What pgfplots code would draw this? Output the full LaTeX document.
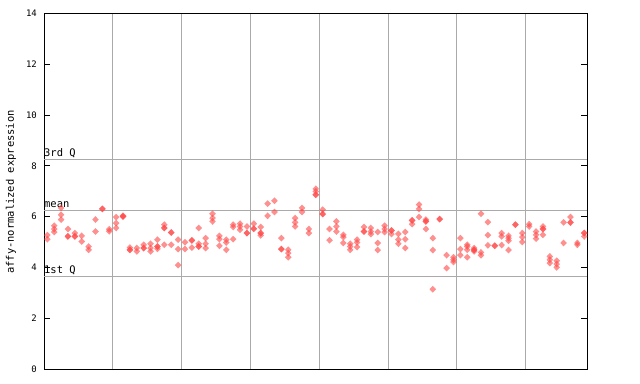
\documentclass[border=0pt]{standalone}
\usepackage{pgfplots}
\pgfplotsset{compat=1.18}
\usepackage{pgfplotstable}
\usepackage{fontspec}
\setmonofont{DejaVu Sans Mono}
\definecolor{rptred}{RGB}{255,70,70}
\definecolor{gridgray}{RGB}{170,170,170}

\pgfplotstableread{
x y
0 5.27
0 5.11
1 5.64
1 5.51
1 5.39
2 6.34
2 6.07
2 5.88
3 5.51
3 5.22
3 5.22
4 5.35
4 5.22
4 5.22
5 5.24
5 5.02
6 4.82
6 4.69
7 5.88
7 5.41
8 6.30
8 6.30
9 5.50
9 5.42
10 5.98
10 5.74
10 5.55
11 6.03
11 6.00
11 6.00
12 4.78
12 4.69
12 4.69
13 4.76
13 4.63
14 4.89
14 4.76
14 4.76
15 4.93
15 4.76
15 4.63
16 5.09
16 4.82
16 4.82
16 4.73
17 5.68
17 5.55
17 5.55
17 4.89
18 5.37
18 5.37
18 4.89
19 5.09
19 4.72
19 4.09
20 4.99
20 4.72
21 5.06
21 5.06
21 4.78
22 5.55
22 4.93
22 4.82
22 4.82
23 5.15
23 4.93
23 4.76
24 6.11
24 5.94
24 5.81
25 5.24
25 5.11
25 4.85
26 5.09
26 4.98
26 4.69
27 5.68
27 5.59
27 5.11
28 5.72
28 5.61
28 5.48
29 5.61
29 5.35
29 5.35
30 5.72
30 5.52
30 5.52
31 5.59
31 5.35
31 5.35
31 5.26
32 6.51
32 6.03
33 6.62
33 6.18
34 5.15
34 4.72
34 4.72
35 4.69
35 4.56
35 4.40
36 5.94
36 5.77
36 5.61
37 6.34
37 6.18
38 5.51
38 5.35
39 7.09
39 6.99
39 6.86
39 6.86
40 6.27
40 6.10
40 6.10
41 5.51
41 5.07
42 5.81
42 5.61
42 5.41
43 5.28
43 5.19
43 4.96
44 4.93
44 4.82
44 4.69
45 5.09
45 4.98
45 4.80
46 5.59
46 5.41
46 5.41
47 5.55
47 5.41
47 5.31
48 5.39
48 4.96
48 4.68
49 5.64
49 5.51
49 5.39
50 5.45
50 5.45
50 5.31
51 5.32
51 5.09
51 4.93
52 5.39
52 5.11
52 4.76
53 5.85
53 5.85
53 5.70
54 6.47
54 6.30
54 5.98
55 5.88
55 5.81
55 5.81
55 5.51
56 5.15
56 4.68
56 3.14
57 5.90
57 5.90
58 4.48
58 3.97
59 4.40
59 4.30
59 4.21
60 5.15
60 4.72
60 4.48
61 4.89
61 4.82
61 4.69
61 4.40
62 4.76
62 4.69
62 4.69
62 4.63
63 6.11
63 4.59
63 4.48
64 5.78
64 5.27
64 4.87
65 4.85
65 4.85
66 5.35
66 5.22
66 4.88
67 5.24
67 5.15
67 5.05
67 4.68
68 5.68
68 5.68
69 5.35
69 5.19
69 5.00
70 5.70
70 5.61
71 5.41
71 5.28
71 5.13
72 5.61
72 5.51
72 5.51
72 5.28
73 4.43
73 4.30
73 4.17
74 4.26
74 4.13
74 4.00
75 5.77
75 4.96
76 5.98
76 5.77
76 5.77
77 4.96
77 4.89
78 5.35
78 5.35
78 5.22
}\pts

\begin{document}
\begin{tikzpicture}
\useasboundingbox (0,0) rectangle (640bp,384bp);
\begin{axis}[
  at={(44bp,15bp)}, anchor=south west,
  scale only axis, width=543bp, height=355.7bp,
  xmin=-0.48, xmax=78.4, ymin=0, ymax=14,
  ytick={0,2,...,14},
  xtick={9.5,19.5,29.5,39.5,49.5,59.5,69.5},
  xticklabels={},
  xmajorgrids,
  major x grid style={gridgray, line width=1bp},
  x tick style={draw=none},
  y tick style={black, line width=0.8bp},
  major tick length=6bp,
  tick align=inside,
  axis line style={black, line width=1bp},
  /pgf/number format/assume math mode=true,
  yticklabel style={font=\ttfamily\fontsize{9}{9}\selectfont, inner sep=0pt, xshift=-7bp},
  clip=false,
]
\addplot[gridgray, line width=1bp, no marks] coordinates {(-0.48,8.23) (78.4,8.23)};
\addplot[gridgray, line width=1bp, no marks] coordinates {(-0.48,6.23) (78.4,6.23)};
\addplot[gridgray, line width=1bp, no marks] coordinates {(-0.48,3.63) (78.4,3.63)};
\addplot[only marks, mark=diamond*, mark size=3.4bp, color=rptred, draw opacity=0,
  mark options={fill=rptred, draw=rptred, draw opacity=0, fill opacity=0.6, xscale=1.3}] table[x=x, y=y] {\pts};
\node[anchor=base west, inner sep=0pt, font=\ttfamily\fontsize{10.5}{10.5}\selectfont] at (axis cs:-0.48,8.23) [yshift=3bp] {3rd Q};
\node[anchor=base west, inner sep=0pt, font=\ttfamily\fontsize{10.5}{10.5}\selectfont] at (axis cs:-0.48,6.23) [yshift=3bp] {mean};
\node[anchor=base west, inner sep=0pt, font=\ttfamily\fontsize{10.5}{10.5}\selectfont] at (axis cs:-0.48,3.63) [yshift=3bp] {1st Q};
\end{axis}
\node[rotate=90, inner sep=0pt, font=\ttfamily\fontsize{10.5}{10.5}\selectfont] at (11bp,192bp) {affy-normalized expression};
\end{tikzpicture}
\end{document}
